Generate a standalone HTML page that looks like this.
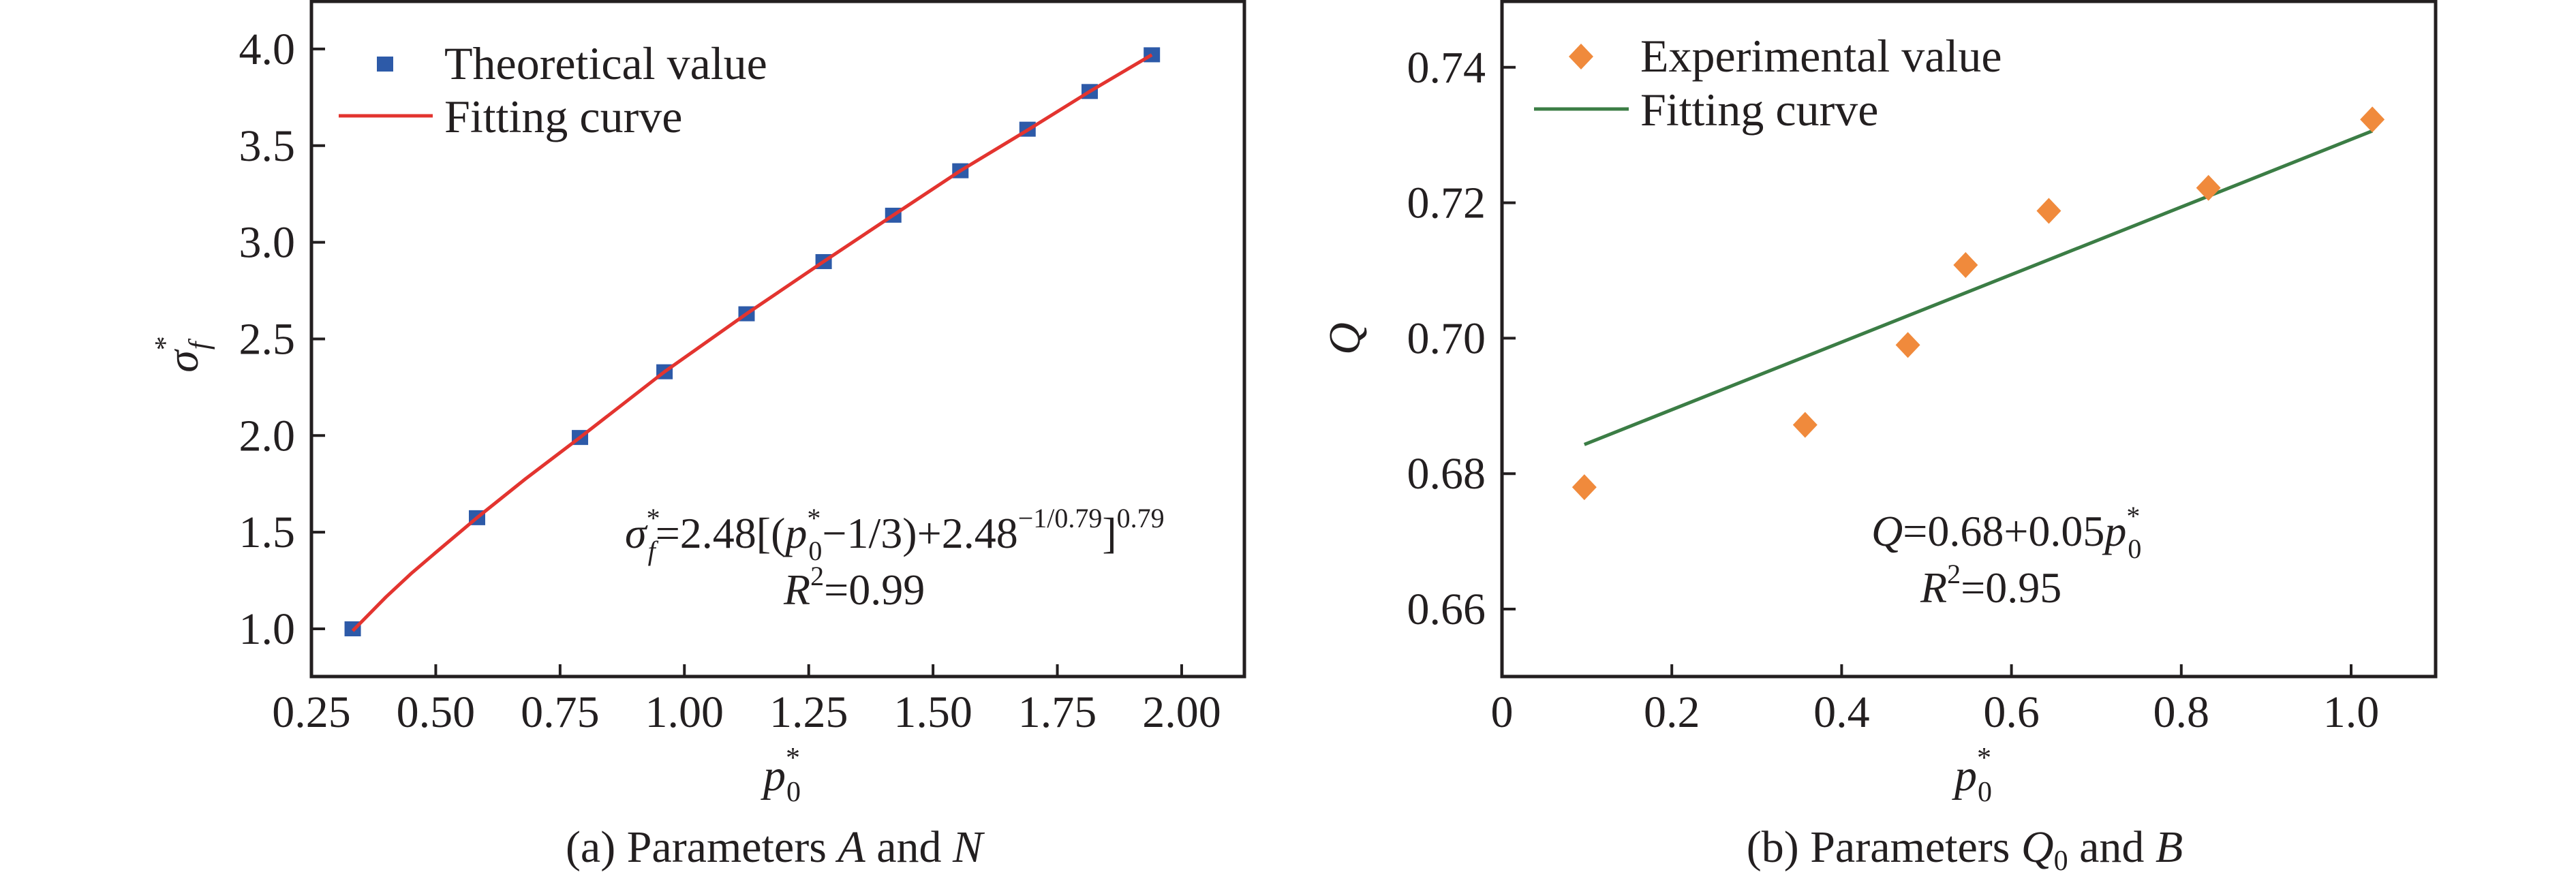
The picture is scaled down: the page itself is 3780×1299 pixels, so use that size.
<!DOCTYPE html>
<html><head><meta charset="utf-8"><style>
html,body{margin:0;padding:0;background:#fff;}
svg{display:block;}
svg text{font-family:"Liberation Serif","Times New Roman",serif;fill:#231f20;}
</style></head><body>
<svg id="fig" width="3780" height="1299" viewBox="0 0 3780 1299" xmlns="http://www.w3.org/2000/svg" font-family="Liberation Serif, serif">
<g id="pa"></g>
<g id="pb"></g>
</svg>
<script>
// Panel A data
const aX = [0.333,0.583,0.79,0.96,1.125,1.28,1.42,1.555,1.69,1.815,1.94];
const aY = [1.0,1.575,1.99,2.33,2.63,2.9,3.14,3.37,3.585,3.78,3.97];
const aFitX = [0.333,0.40,0.45,0.50,0.583,0.68,0.79,0.96,1.125,1.28,1.42,1.555,1.69,1.815,1.94];
const aFitY = [0.99,1.165,1.285,1.395,1.575,1.775,1.99,2.33,2.63,2.9,3.14,3.37,3.58,3.78,3.97];
const aXTicks = ["0.25","0.50","0.75","1.00","1.25","1.50","1.75","2.00"];
const aYTicks = ["1.0","1.5","2.0","2.5","3.0","3.5","4.0"];
// Panel B data
const bX = [0.097,0.357,0.478,0.546,0.644,0.832,1.025];
const bY = [0.678,0.6872,0.699,0.7108,0.7188,0.7222,0.7323];
const bFitX = [0.097,1.025];
const bFitY = [0.6843,0.7306];
const bXTicks = ["0","0.2","0.4","0.6","0.8","1.0"];
const bYTicks = ["0.66","0.68","0.70","0.72","0.74"];

const NS="http://www.w3.org/2000/svg";
const FF="Liberation Serif, Times New Roman, serif";
function mk(parent,tag,attrs,text){const e=document.createElementNS(NS,tag);for(const k in attrs)e.setAttribute(k,attrs[k]);if(tag==='text')e.setAttribute('font-family',FF);if(text!==undefined)e.textContent=text;parent.appendChild(e);return e;}

function axes(g,x0,x1,y0,y1,xs,ys,xt,yt){
  mk(g,'rect',{x:x0,y:y0,width:x1-x0,height:y1-y0,fill:'none',stroke:'#231f20','stroke-width':5});
  xt.forEach(t=>{const v=parseFloat(t);const px=xs(v);
    const tk=mk(g,'line',{x1:px,x2:px,y1:y1,y2:y1-18,stroke:'#231f20','stroke-width':4});
    
    
    const tl=mk(g,'text',{x:px,y:1067,'font-size':66,'text-anchor':'middle'},t);
    
    
  });
  yt.forEach(t=>{const v=parseFloat(t);const py=ys(v);
    const tk=mk(g,'line',{x1:x0,x2:x0+20,y1:py,y2:py,stroke:'#231f20','stroke-width':4});
    
    
    const tl=mk(g,'text',{x:x0-24,y:py+22,'font-size':66,'text-anchor':'end'},t);
    
    
  });
}

// Panel A
(function(){
  const g=document.getElementById('pa');
  const xs=v=>457+(v-0.25)*729.7, ys=v=>923-(v-1.0)*283.7;
  axes(g,457,1826,2,993,xs,ys,aXTicks,aYTicks);
  aX.forEach((x,i)=>{
    const r=mk(g,'rect',{x:xs(x)-12,y:ys(aY[i])-11,width:24,height:22,fill:'#2d5aa8'});
    
    
  });
  const pts=aFitX.map((x,i)=>xs(x)+','+ys(aFitY[i])).join(' ');
  const pl=mk(g,'polyline',{points:pts,fill:'none',stroke:'#e3342f','stroke-width':5,'stroke-linejoin':'round'});
  
  
  g.insertAdjacentHTML('beforeend',`
  <g font-family="Liberation Serif, serif">
   <rect x="553" y="83" width="24" height="22" fill="#2d5aa8"/>
   <text x="652" y="116" font-size="68" font-family="Liberation Serif, serif">Theoretical value</text>
   <line x1="497" x2="635" y1="170" y2="170" stroke="#e3342f" stroke-width="5"/>
   <text x="652" y="194" font-size="68" font-family="Liberation Serif, serif">Fitting curve</text>
  </g>
  <text x="917" y="804" font-size="64" font-family="Liberation Serif, serif"><tspan font-style="italic">σ</tspan><tspan font-size="40" dy="-30">*</tspan><tspan font-size="40" font-style="italic" dx="-18" dy="48">f</tspan><tspan dy="-18">=2.48[(</tspan><tspan font-style="italic">p</tspan><tspan font-size="40" dy="-30">*</tspan><tspan font-size="40" dx="-18" dy="48">0</tspan><tspan dy="-18">−1/3)+2.48</tspan><tspan font-size="40" dy="-30">−1/0.79</tspan><tspan dy="30">]</tspan><tspan font-size="40" dy="-30">0.79</tspan></text>
  <text x="1150" y="887" font-size="64" font-family="Liberation Serif, serif"><tspan font-style="italic">R</tspan><tspan font-size="40" dy="-28">2</tspan><tspan dy="28">=0.99</tspan></text>
  <text x="1120" y="1160" font-size="66" font-family="Liberation Serif, serif"><tspan font-style="italic">p</tspan><tspan font-size="42" dy="-34">*</tspan><tspan font-size="42" dx="-20" dy="50">0</tspan></text>
  <text transform="translate(290,520) rotate(-90)" font-size="66" font-family="Liberation Serif, serif" text-anchor="middle"><tspan font-style="italic">σ</tspan><tspan font-size="42" dy="-34">*</tspan><tspan font-size="42" font-style="italic" dx="-20" dy="50">f</tspan></text>
  <text x="1136" y="1265" font-size="66" font-family="Liberation Serif, serif" text-anchor="middle">(a) Parameters <tspan font-style="italic">A</tspan> and <tspan font-style="italic">N</tspan></text>`);
})();

// Panel B
(function(){
  const g=document.getElementById('pb');
  const xs=v=>2204+v*1246, ys=v=>894-(v-0.66)*9940;
  axes(g,2204,3574,2,993,xs,ys,bXTicks,bYTicks);
  const pts=bFitX.map((x,i)=>xs(x)+','+ys(bFitY[i])).join(' ');
  const pl=mk(g,'polyline',{points:pts,fill:'none',stroke:'#3b7d45','stroke-width':5});
  
  
  bX.forEach((x,i)=>{
    const cx=xs(x),cy=ys(bY[i]);
    const d=mk(g,'polygon',{points:`${cx},${cy-19} ${cx+18},${cy} ${cx},${cy+19} ${cx-18},${cy}`,fill:'#f08a3c'});
    
    
  });
  g.insertAdjacentHTML('beforeend',`
  <g>
   <polygon points="2320,64 2338,83 2320,102 2302,83" fill="#f08a3c"/>
   <text x="2407" y="105" font-size="68" font-family="Liberation Serif, serif">Experimental value</text>
   <line x1="2251" x2="2390" y1="160" y2="160" stroke="#3b7d45" stroke-width="5"/>
   <text x="2407" y="184" font-size="68" font-family="Liberation Serif, serif">Fitting curve</text>
  </g>
  <text x="2746" y="801" font-size="64" font-family="Liberation Serif, serif"><tspan font-style="italic">Q</tspan>=0.68+0.05<tspan font-style="italic">p</tspan><tspan font-size="40" dy="-30">*</tspan><tspan font-size="40" dx="-18" dy="48">0</tspan></text>
  <text x="2818" y="884" font-size="64" font-family="Liberation Serif, serif"><tspan font-style="italic">R</tspan><tspan font-size="40" dy="-28">2</tspan><tspan dy="28">=0.95</tspan></text>
  <text x="2868" y="1160" font-size="66" font-family="Liberation Serif, serif"><tspan font-style="italic">p</tspan><tspan font-size="42" dy="-34">*</tspan><tspan font-size="42" dx="-20" dy="50">0</tspan></text>
  <text transform="translate(1995,497) rotate(-90)" font-size="66" font-family="Liberation Serif, serif" font-style="italic" text-anchor="middle">Q</text>
  <text x="2883" y="1265" font-size="66" font-family="Liberation Serif, serif" text-anchor="middle">(b) Parameters <tspan font-style="italic">Q</tspan><tspan font-size="42" dy="12">0</tspan><tspan dy="-12"> and </tspan><tspan font-style="italic">B</tspan></text>`);
})();
</script>
</body></html>
